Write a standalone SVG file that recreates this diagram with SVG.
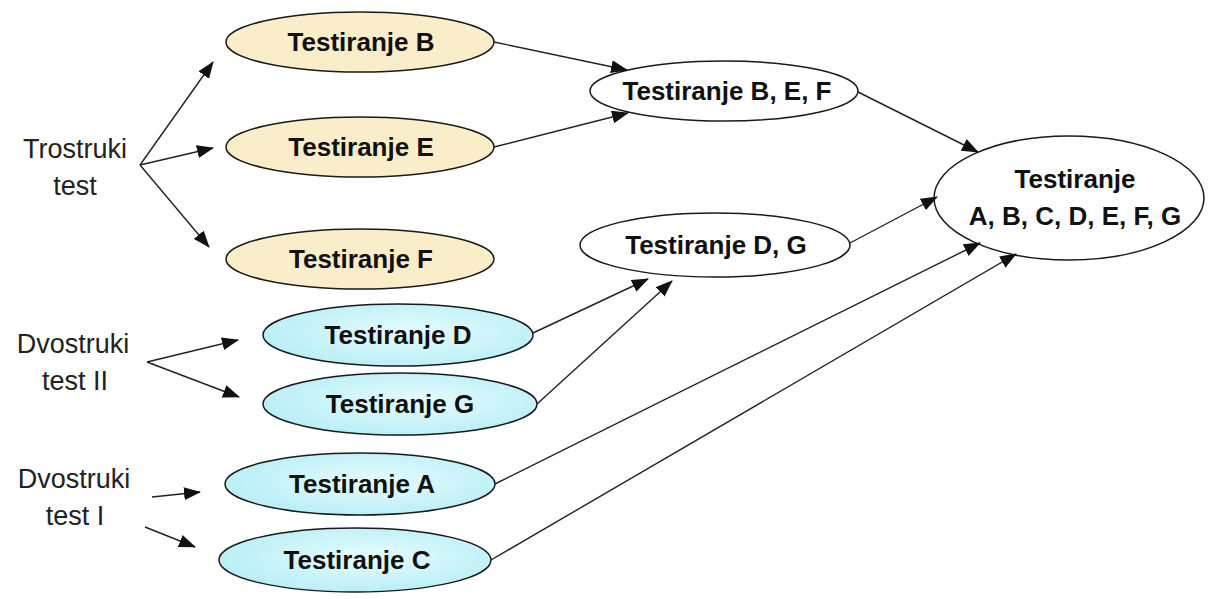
<svg xmlns="http://www.w3.org/2000/svg" width="1214" height="599" viewBox="0 0 1214 599">
  <defs>
    <marker id="arrow" markerUnits="userSpaceOnUse" markerWidth="17" markerHeight="13" viewBox="0 0 17 13" refX="16" refY="6.5" orient="auto">
      <path d="M0,0 L17,6.5 L0,13 Z" fill="#111"/>
    </marker>
    <radialGradient id="cyanFill" cx="55%" cy="45%" r="60%">
      <stop offset="0" stop-color="#E6FCFE"/>
      <stop offset="1" stop-color="#B6EEF6"/>
    </radialGradient>
    <style>
      .node { stroke: #1a1a1a; stroke-width: 1.5; }
      .beige { fill: #FAEDC9; }
      .cyan { fill: url(#cyanFill); }
      .white { fill: #FFFFFF; }
      .lbl { font-family: "Liberation Sans", Arial, sans-serif; font-weight: bold; font-size: 26px; fill: #111; text-anchor: middle; }
      .side { font-family: "Liberation Sans", Arial, sans-serif; font-size: 27px; fill: #222; text-anchor: middle; }
      .conn line { stroke: #222; stroke-width: 1.4; marker-end: url(#arrow); }
    </style>
  </defs>

  <rect width="1214" height="599" fill="#FFFFFF"/>

  <!-- group labels -->
  <g id="label-trostruki">
    <text class="side" x="75" y="158">Trostruki</text>
    <text class="side" x="75" y="195">test</text>
  </g>
  <g id="label-dvostruki-2">
    <text class="side" x="73" y="353">Dvostruki</text>
    <text class="side" x="75" y="390">test II</text>
  </g>
  <g id="label-dvostruki-1">
    <text class="side" x="74" y="488">Dvostruki</text>
    <text class="side" x="75" y="525">test I</text>
  </g>

  <!-- single tests -->
  <g id="node-b">
    <ellipse class="node beige" cx="360" cy="42" rx="134" ry="30"/>
    <text class="lbl" x="361" y="51">Testiranje B</text>
  </g>
  <g id="node-e">
    <ellipse class="node beige" cx="360" cy="147" rx="134" ry="30"/>
    <text class="lbl" x="361" y="156">Testiranje E</text>
  </g>
  <g id="node-f">
    <ellipse class="node beige" cx="360" cy="259" rx="134" ry="30"/>
    <text class="lbl" x="361" y="268">Testiranje F</text>
  </g>
  <g id="node-d">
    <ellipse class="node cyan" cx="398" cy="335" rx="135" ry="31"/>
    <text class="lbl" x="398" y="344">Testiranje D</text>
  </g>
  <g id="node-g">
    <ellipse class="node cyan" cx="400" cy="404" rx="137" ry="31"/>
    <text class="lbl" x="400" y="413">Testiranje G</text>
  </g>
  <g id="node-a">
    <ellipse class="node cyan" cx="360" cy="484" rx="135" ry="31"/>
    <text class="lbl" x="362" y="493">Testiranje A</text>
  </g>
  <g id="node-c">
    <ellipse class="node cyan" cx="355" cy="560" rx="136" ry="32"/>
    <text class="lbl" x="357" y="569">Testiranje C</text>
  </g>

  <!-- combined tests -->
  <g id="node-bef">
    <ellipse class="node white" cx="724" cy="91" rx="134" ry="30"/>
    <text class="lbl" x="727" y="100">Testiranje B, E, F</text>
  </g>
  <g id="node-dg">
    <ellipse class="node white" cx="715" cy="245" rx="135" ry="32"/>
    <text class="lbl" x="716" y="254">Testiranje D, G</text>
  </g>
  <g id="node-all">
    <ellipse class="node white" cx="1069" cy="198" rx="135" ry="62"/>
    <text class="lbl" x="1075" y="188">Testiranje</text>
    <text class="lbl" x="1075" y="225">A, B, C, D, E, F, G</text>
  </g>

  <!-- connectors -->
  <g id="connectors" class="conn">
    <line x1="140" y1="165" x2="213" y2="62"/>
    <line x1="140" y1="165" x2="213" y2="148"/>
    <line x1="140" y1="165" x2="209" y2="247"/>
    <line x1="147" y1="362" x2="238" y2="340"/>
    <line x1="147" y1="362" x2="239" y2="397"/>
    <line x1="152" y1="497" x2="200" y2="492"/>
    <line x1="145" y1="527" x2="195" y2="547"/>
    <line x1="494" y1="42" x2="627" y2="70"/>
    <line x1="494" y1="147" x2="628" y2="113"/>
    <line x1="858" y1="92" x2="978" y2="152"/>
    <line x1="850" y1="243" x2="937" y2="197"/>
    <line x1="533" y1="333" x2="648" y2="279"/>
    <line x1="537" y1="404" x2="672" y2="281"/>
    <line x1="495" y1="484" x2="980" y2="243"/>
    <line x1="491" y1="560" x2="1016" y2="254"/>
  </g>
</svg>
